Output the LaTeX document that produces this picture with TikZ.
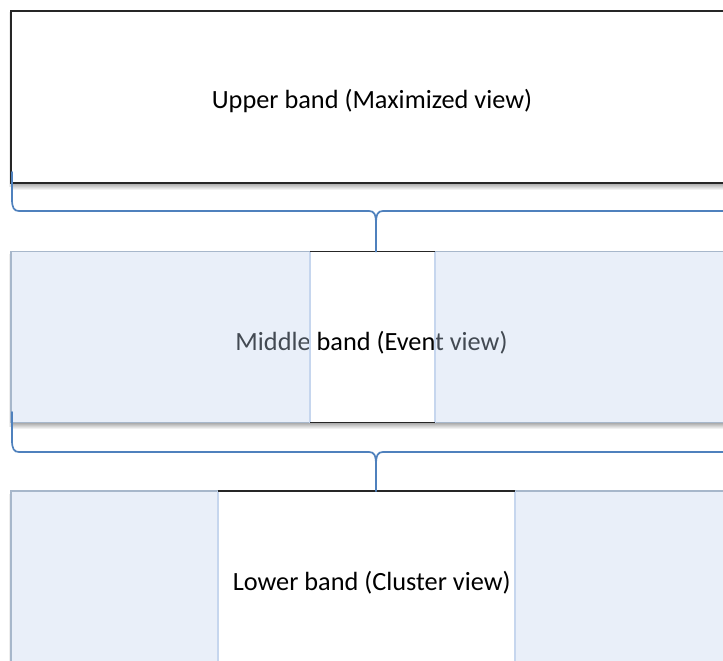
\documentclass[tikz,border=0pt]{standalone}
\usepackage{fontspec}
\setmainfont{Carlito}
\usetikzlibrary{calc}
\definecolor{bracecol}{RGB}{79,129,189}
\definecolor{bandedge}{RGB}{167,183,203}
\definecolor{paneedge}{RGB}{198,214,238}
\definecolor{tint}{RGB}{192,212,238}
\begin{document}
\begin{tikzpicture}[x=1pt,y=-1pt,
  box/.style={anchor=north west,inner sep=0pt,outer sep=0pt,rectangle},
  bandlabel/.style={anchor=base,font=\fontsize{26.3}{30}\selectfont,text=black,inner sep=0pt},
  brace/.style={draw=bracecol,line width=1.7pt,line cap=round,line join=round},
  tintfill/.style={fill=tint,fill opacity=0.35},
  bandline/.style={draw=bandedge,line width=1.6pt},
  paneline/.style={draw=paneedge,line width=1.3pt},
  blackline/.style={draw=black!85,line width=1.8pt},
  dropshade/.style={top color=black!35,bottom color=white,draw=none},
  sideshade/.style={left color=white,right color=black!20,draw=none}
]
\useasboundingbox (0,0) rectangle (723,661);
\clip (0,0) rectangle (723,661);

% ---------- upper band ----------
\shade[dropshade] (11,183) rectangle (740,190);
\shade[sideshade] (8,13) rectangle (11,186);
\node[box,minimum width=740pt,minimum height=172pt,fill=white] (upper) at (11,11) {};
\draw[blackline] (upper.north east) -- (upper.north west) -- (upper.south west) -- (upper.south east);
\node[bandlabel] (uppertext) at (372,108.5) {Upper band (Maximized view)};

% ---------- middle band ----------
\shade[dropshade] (11,422.5) rectangle (740,429);
\shade[sideshade] (8,254) rectangle (11,426);
\node[box,minimum width=740pt,minimum height=171pt,fill=white] (middle) at (11,251.5) {};
\node[bandlabel] (middletext) at (371.5,350.5) {Middle band (Event view)};
\node[box,minimum width=125pt,minimum height=171pt] (midpane) at (310,251.5) {};
\fill[tintfill] (middle.north west) rectangle (midpane.south west);
\fill[tintfill] (midpane.north east) rectangle (middle.south east);
\draw[bandline] (middle.north east) -- (middle.north west) -- (middle.south west) -- (middle.south east);
\draw[paneline] (midpane.north west) -- (midpane.south west) (midpane.north east) -- (midpane.south east);
\draw[blackline] (midpane.north west) -- (midpane.north east) (midpane.south west) -- (midpane.south east);

% ---------- lower band ----------
\shade[sideshade] (8,494) rectangle (11,670);
\node[box,minimum width=740pt,minimum height=200pt,fill=white] (lower) at (11,491) {};
\node[bandlabel] (lowertext) at (371.7,590.5) {Lower band (Cluster view)};
\node[box,minimum width=297pt,minimum height=200pt] (lowpane) at (218,491) {};
\fill[tintfill] (lower.north west) rectangle (lowpane.south west);
\fill[tintfill] (lowpane.north east) rectangle (lower.south east);
\draw[bandline] (lower.north east) -- (lower.north west) -- (lower.south west);
\draw[paneline] (lowpane.north west) -- (lowpane.south west) (lowpane.north east) -- (lowpane.south east);
\draw[blackline] (lowpane.north west) -- (lowpane.north east);

% ---------- braces ----------
\coordinate (tipA) at (376,251.5);
\coordinate (tipB) at (376,491);
\draw[brace] ($(upper.south west)+(1,-11)$) -- (12,199) .. controls (12,208) and (14,211) .. (19,211)
  -- (369,211) .. controls (374,211) and (376,214) .. (376,224) -- (tipA);
\draw[brace] (tipA) -- (376,224) .. controls (376,214) and (378,211) .. (383,211) -- (740,211);
\draw[brace] ($(middle.south west)+(1,-10.5)$) -- (12,440) .. controls (12,449) and (14,452) .. (19,452)
  -- (369,452) .. controls (374,452) and (376,455) .. (376,465) -- (tipB);
\draw[brace] (tipB) -- (376,465) .. controls (376,455) and (378,452) .. (383,452) -- (740,452);
\end{tikzpicture}
\end{document}
